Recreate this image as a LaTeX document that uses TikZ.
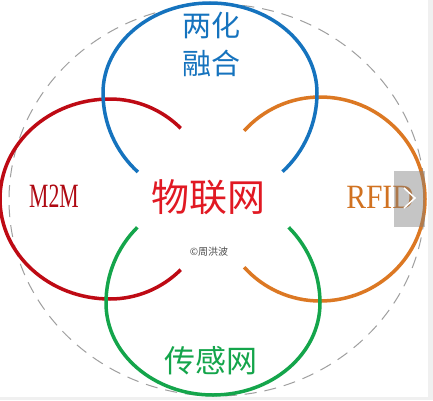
\documentclass[tikz,border=0pt]{standalone}
\usepackage{fontspec}
\newfontfamily\cjk{Noto Sans CJK SC}
\newfontfamily\tnr{Liberation Serif}
\usepackage{tikz}
\usetikzlibrary{calc}
\definecolor{cblue}{RGB}{21,115,190}
\definecolor{cred}{RGB}{190,10,20}
\definecolor{credtext}{RGB}{225,25,35}
\definecolor{corange}{RGB}{220,120,35}
\definecolor{cgreen}{RGB}{20,165,75}
\tikzset{ring/.style={line width=3.5pt},
  hanzi/.style={font=\cjk\fontsize{#1}{#1}\selectfont},
  latin/.style={font=\tnr\fontsize{34}{34}\selectfont}}

\begin{document}
\begin{tikzpicture}[x=1pt,y=1pt]
\useasboundingbox (0,0) rectangle (433,400);
\fill[white] (0,0) rectangle (433,400);
\fill[gray!12] (428,0) rectangle (433,400);
\fill[gray!12] (0,0) rectangle (433,3);
% outer dashed ellipse
\draw[gray!75, line width=1pt, dash pattern=on 12pt off 8pt] (217,200) coordinate(O) ellipse [x radius=208pt, y radius=196pt];
% the four rings
\coordinate (R) at (110,201);
\coordinate (Q) at (320,201);
\coordinate (B) at (210,307);
\coordinate (G) at (213,97);
\draw[ring,cred] (R) ++(45:100pt) arc[start angle=45,end angle=90,radius=100pt] arc[start angle=90,end angle=270,x radius=110pt,y radius=100pt] arc[start angle=270,end angle=315,radius=100pt];
\draw[ring,corange] (Q) ++(138:102pt) arc[start angle=138,end angle=90,radius=102pt] arc[start angle=90,end angle=-90,x radius=105pt,y radius=102pt] arc[start angle=-90,end angle=-138,radius=102pt];
\draw[ring,cblue] (B) ++(227.6:107pt) arc[start angle=227.6,end angle=180,radius=107pt] arc[start angle=180,end angle=0,x radius=107pt,y radius=90pt] arc[start angle=0,end angle=-47.3,radius=107pt];
\draw[ring,cgreen] (G) ++(135:107pt) arc[start angle=135,end angle=180,radius=107pt] arc[start angle=180,end angle=360,x radius=107pt,y radius=92pt] arc[start angle=0,end angle=45,radius=107pt];
% labels
\node[hanzi=29, cblue, align=center, font=\cjk\fontsize{29}{38}\selectfont] (lhrh) at (211,356) {两化\\融合};
\node[hanzi=38, credtext] (wlw) at (208,203) {物联网};
\node[hanzi=31, cgreen] (cgw) at (211,39) {传感网};
\node[latin, cred!92!black, xscale=.64] (mm) at (54,204) {M2M};
\node[latin, corange!95!black, xscale=.87] (rfid) at (380,203) {RFID};
\node[hanzi=10, gray!60!black] (zhb) at (209,148) {©周洪波};
% overlay arrow box
\fill[gray, opacity=.45] (394,173) rectangle (425,229);
\draw[white, line width=1.5pt] (404,212) -- (415,202) -- (404,192);
\end{tikzpicture}
\end{document}
